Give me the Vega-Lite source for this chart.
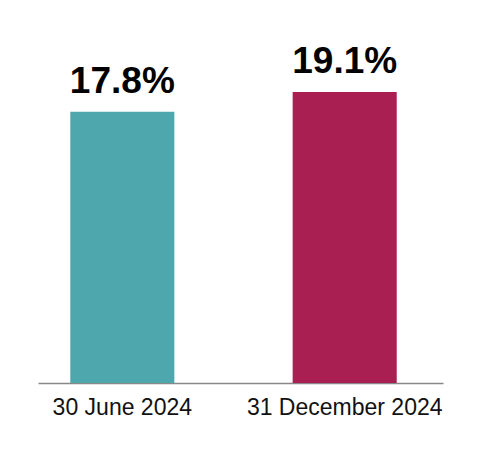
{
  "$schema": "https://vega.github.io/schema/vega-lite/v6.json",
  "autosize": "none",
  "width": 405,
  "height": 381,
  "padding": {"left": 38, "top": 2, "right": 37, "bottom": 68},
  "background": "white",
  "config": {"view": {"stroke": null}, "font": "Liberation Sans"},
  "data": {"values": [
    {"date": "30 June 2024", "value": 17.8, "label": "17.8%"},
    {"date": "31 December 2024", "value": 19.1, "label": "19.1%"}
  ]},
  "encoding": {
    "x": {
      "field": "date", "type": "nominal", "sort": null,
      "scale": {"paddingInner": 0.532, "paddingOuter": 0.1766, "align": 0.411},
      "axis": {"title": null, "labelAngle": 0, "ticks": false, "domainColor": "#888888", "domainWidth": 1.5,
               "labelFont": "Liberation Sans", "labelFontSize": 23, "labelColor": "#111111", "labelPadding": 13, "labelLimit": 0, "grid": false}
    },
    "y": {
      "field": "value", "type": "quantitative",
      "scale": {"domain": [0, 25], "nice": false},
      "axis": null
    }
  },
  "layer": [
    {
      "mark": {"type": "bar"},
      "encoding": {
        "color": {"field": "date", "type": "nominal", "sort": null,
                  "scale": {"range": ["#4fa7ae", "#a91f51"]}, "legend": null}
      }
    },
    {
      "mark": {"type": "text", "baseline": "alphabetic", "dy": -19, "fontSize": 37, "fontWeight": "bold", "font": "Liberation Sans", "color": "#000000"},
      "encoding": {"text": {"field": "label"}}
    }
  ]
}
